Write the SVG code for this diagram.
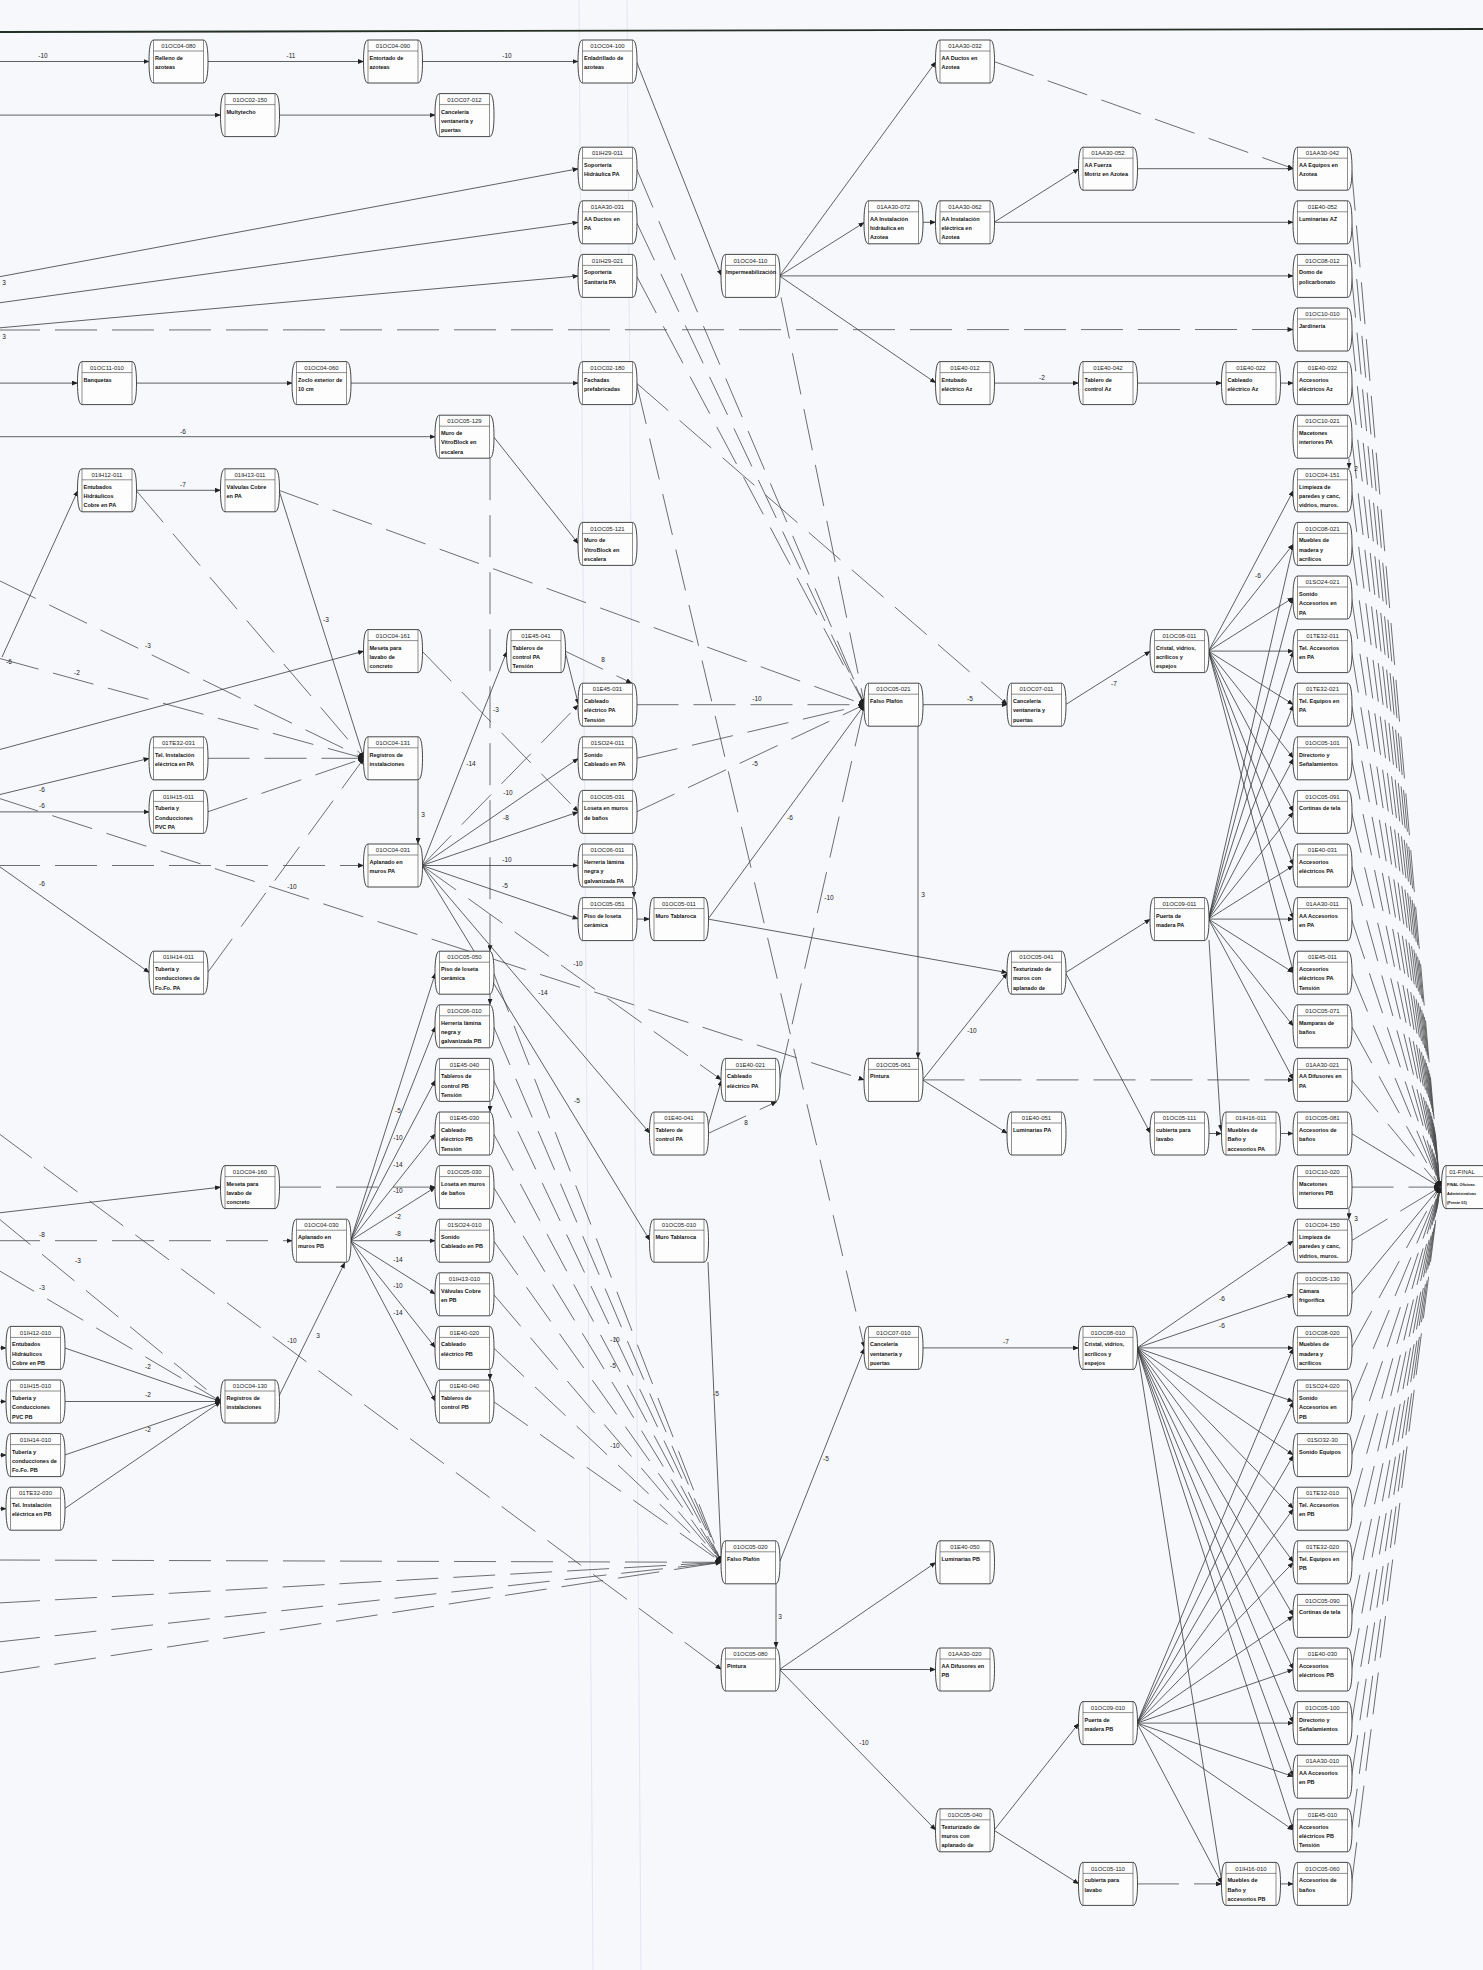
<svg xmlns="http://www.w3.org/2000/svg" xmlns:xlink="http://www.w3.org/1999/xlink" width="1483" height="1970" viewBox="0 0 1483 1970">
<style>
.i{font-family:"Liberation Sans",Arial,sans-serif;font-size:6px;fill:#222;text-anchor:middle}
.t{font-family:"Liberation Sans",Arial,sans-serif;font-size:5.5px;font-weight:bold;fill:#111}
.tf{font-family:"Liberation Sans",Arial,sans-serif;font-size:3.9px;font-weight:bold;fill:#111}
.l{font-family:"Liberation Sans",Arial,sans-serif;font-size:6.5px;fill:#222;text-anchor:middle}
.s{stroke:#3a3a3a;stroke-width:.8;fill:none;marker-end:url(#a)}
.d{stroke:#4a4a4a;stroke-width:.8;fill:none;stroke-dasharray:42 15;marker-end:url(#a)}
.f{stroke:#e2e6ee;stroke-width:1;fill:none}
</style>
<defs>
<marker id="a" viewBox="0 0 6 5" refX="6" refY="2.5" markerWidth="6" markerHeight="5" markerUnits="userSpaceOnUse" orient="auto"><path d="M0,0 L6,2.5 L0,5 Z" fill="#222"/></marker>
<g id="b"><path d="M4,0 H54 C57.5,0 58.5,10 58.5,21.5 C58.5,33 57.5,43 54,43 H4 C0.5,43 -0.5,33 -0.5,21.5 C-0.5,10 0.5,0 4,0 Z" fill="#fdfdfe" stroke="#333" stroke-width=".9"/><path d="M4,0 V43 M54,0 V43 M4,11 H54" stroke="#444" stroke-width=".6" fill="none"/></g>
</defs>
<rect width="1483" height="1970" fill="#f6f8fc"/>
<line class="f" x1="579" y1="0" x2="593" y2="1970"/>
<line class="f" x1="627" y1="0" x2="641" y2="1970"/>
<line x1="0" y1="32" x2="1483" y2="29" stroke="#253025" stroke-width="1.8"/>
<g id="connectors">
<line class="s" x1="-2" y1="61.5" x2="149.5" y2="61.5"/>
<line class="s" x1="207.5" y1="61.5" x2="364" y2="61.5"/>
<line class="s" x1="422" y1="61.5" x2="578.5" y2="61.5"/>
<line class="s" x1="636.5" y1="61.5" x2="721.5" y2="275.9"/>
<line class="s" x1="-2" y1="115.1" x2="221" y2="115.1"/>
<line class="s" x1="279" y1="115.1" x2="435.5" y2="115.1"/>
<line class="s" x1="-2" y1="277" x2="578.5" y2="168.7"/>
<line class="s" x1="-2" y1="303" x2="578.5" y2="222.3"/>
<line class="s" x1="-2" y1="328" x2="578.5" y2="275.9"/>
<line class="d" x1="-2" y1="330" x2="1293.5" y2="329.5"/>
<line class="s" x1="779.5" y1="275.9" x2="936" y2="61.5"/>
<line class="s" x1="779.5" y1="275.9" x2="864.5" y2="222.3"/>
<line class="s" x1="779.5" y1="275.9" x2="1293.5" y2="275.9"/>
<line class="s" x1="779.5" y1="275.9" x2="936" y2="383.1"/>
<line class="s" x1="922.5" y1="222.3" x2="936" y2="222.3"/>
<line class="s" x1="994" y1="222.3" x2="1079" y2="168.7"/>
<line class="s" x1="994" y1="222.3" x2="1293.5" y2="222.3"/>
<line class="s" x1="1137" y1="168.7" x2="1293.5" y2="168.7"/>
<line class="d" x1="994" y1="61.5" x2="1293.5" y2="168.7"/>
<line class="s" x1="994" y1="383.1" x2="1079" y2="383.1"/>
<line class="s" x1="1137" y1="383.1" x2="1222" y2="383.1"/>
<line class="s" x1="1280" y1="383.1" x2="1293.5" y2="383.1"/>
<line class="s" x1="-2" y1="383.1" x2="78" y2="383.1"/>
<line class="s" x1="136" y1="383.1" x2="292.5" y2="383.1"/>
<line class="s" x1="350.5" y1="383.1" x2="578.5" y2="383.1"/>
<line class="s" x1="-2" y1="436.7" x2="435.5" y2="436.7"/>
<line class="s" x1="493.5" y1="436.7" x2="578.5" y2="543.9"/>
<line class="s" x1="136" y1="490.3" x2="221" y2="490.3"/>
<line class="s" x1="2" y1="657" x2="78" y2="490.3"/>
<line class="s" x1="279" y1="490.3" x2="364" y2="758.3"/>
<line class="d" x1="279" y1="490.3" x2="864.5" y2="704.7"/>
<line class="d" x1="136" y1="490.3" x2="364" y2="758.3"/>
<line class="d" x1="-2" y1="580" x2="364" y2="758.3"/>
<line class="d" x1="-2" y1="658" x2="364" y2="758.3"/>
<line class="s" x1="-2" y1="750" x2="364" y2="651.1"/>
<line class="s" x1="-2" y1="795" x2="149.5" y2="758.3"/>
<line class="s" x1="-2" y1="811.9" x2="149.5" y2="811.9"/>
<line class="d" x1="-2" y1="798" x2="864.5" y2="1079.9"/>
<line class="d" x1="-2" y1="865.5" x2="364" y2="865.5"/>
<line class="s" x1="-2" y1="865.5" x2="149.5" y2="972.7"/>
<line class="d" x1="207.5" y1="758.3" x2="364" y2="758.3"/>
<line class="d" x1="207.5" y1="811.9" x2="364" y2="758.3"/>
<line class="d" x1="207.5" y1="972.7" x2="364" y2="758.3"/>
<line class="s" x1="418" y1="780.3" x2="418" y2="844"/>
<line class="d" x1="422" y1="651.1" x2="578.5" y2="811.9"/>
<line class="d" x1="490" y1="458.2" x2="490" y2="951.2"/>
<line class="s" x1="422" y1="865.5" x2="507" y2="651.1"/>
<line class="d" x1="422" y1="865.5" x2="578.5" y2="704.7"/>
<line class="s" x1="422" y1="865.5" x2="578.5" y2="758.3"/>
<line class="s" x1="422" y1="865.5" x2="578.5" y2="811.9"/>
<line class="s" x1="422" y1="865.5" x2="578.5" y2="865.5"/>
<line class="s" x1="422" y1="865.5" x2="578.5" y2="919.1"/>
<line class="d" x1="422" y1="865.5" x2="721.5" y2="1079.9"/>
<line class="s" x1="422" y1="865.5" x2="650" y2="1133.5"/>
<line class="s" x1="422" y1="865.5" x2="650" y2="1240.7"/>
<line class="s" x1="565" y1="651.1" x2="578.5" y2="704.7"/>
<line class="d" x1="565" y1="651.1" x2="632" y2="683.2"/>
<line class="d" x1="636.5" y1="704.7" x2="864.5" y2="704.7"/>
<line class="d" x1="636.5" y1="758.3" x2="864.5" y2="704.7"/>
<line class="d" x1="636.5" y1="811.9" x2="864.5" y2="704.7"/>
<line class="s" x1="708" y1="919.1" x2="864.5" y2="704.7"/>
<line class="s" x1="636.5" y1="919.1" x2="650" y2="919.1"/>
<line class="s" x1="634" y1="887" x2="634" y2="897.6"/>
<line class="s" x1="708" y1="919.1" x2="1007.5" y2="972.7"/>
<line class="d" x1="636.5" y1="168.7" x2="864.5" y2="704.7"/>
<line class="d" x1="636.5" y1="222.3" x2="864.5" y2="704.7"/>
<line class="d" x1="636.5" y1="275.9" x2="864.5" y2="704.7"/>
<line class="d" x1="781" y1="297.4" x2="864.5" y2="704.7"/>
<line class="d" x1="636.5" y1="383.1" x2="1007.5" y2="704.7"/>
<line class="d" x1="636.5" y1="383.1" x2="864.5" y2="1347.9"/>
<line class="d" x1="779.5" y1="1079.9" x2="864.5" y2="704.7"/>
<line class="s" x1="922.5" y1="704.7" x2="1007.5" y2="704.7"/>
<line class="s" x1="918" y1="726.2" x2="918" y2="1058.4"/>
<line class="s" x1="1065.5" y1="704.7" x2="1150.5" y2="651.1"/>
<line class="s" x1="922.5" y1="1079.9" x2="1007.5" y2="972.7"/>
<line class="d" x1="922.5" y1="1079.9" x2="1293.5" y2="1079.9"/>
<line class="s" x1="922.5" y1="1079.9" x2="1007.5" y2="1133.5"/>
<line class="s" x1="1065.5" y1="972.7" x2="1150.5" y2="919.1"/>
<line class="s" x1="1065.5" y1="972.7" x2="1150.5" y2="1133.5"/>
<line class="s" x1="1208.5" y1="1133.5" x2="1222" y2="1133.5"/>
<line class="s" x1="1280" y1="1133.5" x2="1293.5" y2="1133.5"/>
<line class="s" x1="1209" y1="940" x2="1221" y2="1131"/>
<line class="s" x1="708" y1="1126" x2="721.5" y2="1079.9"/>
<line class="d" x1="708" y1="1133.5" x2="777" y2="1101.6"/>
<line class="s" x1="708" y1="1262" x2="721.5" y2="1562.3"/>
<line class="s" x1="779.5" y1="1562.3" x2="864.5" y2="1347.9"/>
<line class="s" x1="776" y1="1583.8" x2="776" y2="1648"/>
<line class="s" x1="922.5" y1="1347.9" x2="1079" y2="1347.9"/>
<line class="s" x1="779.5" y1="1669.5" x2="936" y2="1562.3"/>
<line class="s" x1="779.5" y1="1669.5" x2="936" y2="1669.5"/>
<line class="s" x1="779.5" y1="1669.5" x2="936" y2="1830.3"/>
<line class="s" x1="994" y1="1830.3" x2="1079" y2="1723.1"/>
<line class="s" x1="994" y1="1830.3" x2="1079" y2="1883.9"/>
<line class="d" x1="1137" y1="1883.9" x2="1222" y2="1883.9"/>
<line class="s" x1="1280" y1="1883.9" x2="1293.5" y2="1883.9"/>
<line class="s" x1="1137" y1="1723.1" x2="1222" y2="1883.9"/>
<line class="s" x1="1137" y1="1347.9" x2="1222" y2="1883.9"/>
<line class="s" x1="1208.5" y1="651.1" x2="1293.5" y2="490.3"/>
<line class="s" x1="1208.5" y1="651.1" x2="1293.5" y2="543.9"/>
<line class="s" x1="1208.5" y1="651.1" x2="1293.5" y2="597.5"/>
<line class="s" x1="1208.5" y1="651.1" x2="1293.5" y2="651.1"/>
<line class="s" x1="1208.5" y1="651.1" x2="1293.5" y2="704.7"/>
<line class="s" x1="1208.5" y1="651.1" x2="1293.5" y2="758.3"/>
<line class="s" x1="1208.5" y1="651.1" x2="1293.5" y2="811.9"/>
<line class="s" x1="1208.5" y1="651.1" x2="1293.5" y2="865.5"/>
<line class="s" x1="1208.5" y1="651.1" x2="1293.5" y2="919.1"/>
<line class="s" x1="1208.5" y1="651.1" x2="1293.5" y2="972.7"/>
<line class="s" x1="1208.5" y1="919.1" x2="1293.5" y2="543.9"/>
<line class="s" x1="1208.5" y1="919.1" x2="1293.5" y2="597.5"/>
<line class="s" x1="1208.5" y1="919.1" x2="1293.5" y2="651.1"/>
<line class="s" x1="1208.5" y1="919.1" x2="1293.5" y2="704.7"/>
<line class="s" x1="1208.5" y1="919.1" x2="1293.5" y2="758.3"/>
<line class="s" x1="1208.5" y1="919.1" x2="1293.5" y2="811.9"/>
<line class="s" x1="1208.5" y1="919.1" x2="1293.5" y2="865.5"/>
<line class="s" x1="1208.5" y1="919.1" x2="1293.5" y2="919.1"/>
<line class="s" x1="1208.5" y1="919.1" x2="1293.5" y2="972.7"/>
<line class="s" x1="1208.5" y1="919.1" x2="1293.5" y2="1026.3"/>
<line class="s" x1="1208.5" y1="919.1" x2="1293.5" y2="1079.9"/>
<line class="s" x1="1137" y1="1347.9" x2="1293.5" y2="1240.7"/>
<line class="s" x1="1137" y1="1347.9" x2="1293.5" y2="1294.3"/>
<line class="s" x1="1137" y1="1347.9" x2="1293.5" y2="1347.9"/>
<line class="s" x1="1137" y1="1347.9" x2="1293.5" y2="1401.5"/>
<line class="s" x1="1137" y1="1347.9" x2="1293.5" y2="1455.1"/>
<line class="s" x1="1137" y1="1347.9" x2="1293.5" y2="1508.7"/>
<line class="s" x1="1137" y1="1347.9" x2="1293.5" y2="1562.3"/>
<line class="s" x1="1137" y1="1347.9" x2="1293.5" y2="1615.9"/>
<line class="s" x1="1137" y1="1347.9" x2="1293.5" y2="1669.5"/>
<line class="s" x1="1137" y1="1347.9" x2="1293.5" y2="1723.1"/>
<line class="s" x1="1137" y1="1347.9" x2="1293.5" y2="1776.7"/>
<line class="s" x1="1137" y1="1347.9" x2="1293.5" y2="1830.3"/>
<line class="s" x1="1137" y1="1723.1" x2="1293.5" y2="1347.9"/>
<line class="s" x1="1137" y1="1723.1" x2="1293.5" y2="1401.5"/>
<line class="s" x1="1137" y1="1723.1" x2="1293.5" y2="1455.1"/>
<line class="s" x1="1137" y1="1723.1" x2="1293.5" y2="1508.7"/>
<line class="s" x1="1137" y1="1723.1" x2="1293.5" y2="1562.3"/>
<line class="s" x1="1137" y1="1723.1" x2="1293.5" y2="1615.9"/>
<line class="s" x1="1137" y1="1723.1" x2="1293.5" y2="1669.5"/>
<line class="s" x1="1137" y1="1723.1" x2="1293.5" y2="1723.1"/>
<line class="s" x1="1137" y1="1723.1" x2="1293.5" y2="1776.7"/>
<line class="s" x1="1137" y1="1723.1" x2="1293.5" y2="1830.3"/>
<line class="d" x1="1351.5" y1="168.7" x2="1440" y2="1187.1"/>
<line class="d" x1="1351.5" y1="222.3" x2="1440" y2="1187.1"/>
<line class="d" x1="1351.5" y1="275.9" x2="1440" y2="1187.1"/>
<line class="d" x1="1351.5" y1="329.5" x2="1440" y2="1187.1"/>
<line class="d" x1="1351.5" y1="383.1" x2="1440" y2="1187.1"/>
<line class="d" x1="1351.5" y1="436.7" x2="1440" y2="1187.1"/>
<line class="d" x1="1351.5" y1="490.3" x2="1440" y2="1187.1"/>
<line class="d" x1="1351.5" y1="543.9" x2="1440" y2="1187.1"/>
<line class="d" x1="1351.5" y1="597.5" x2="1440" y2="1187.1"/>
<line class="d" x1="1351.5" y1="651.1" x2="1440" y2="1187.1"/>
<line class="d" x1="1351.5" y1="704.7" x2="1440" y2="1187.1"/>
<line class="d" x1="1351.5" y1="758.3" x2="1440" y2="1187.1"/>
<line class="d" x1="1351.5" y1="811.9" x2="1440" y2="1187.1"/>
<line class="d" x1="1351.5" y1="865.5" x2="1440" y2="1187.1"/>
<line class="d" x1="1351.5" y1="919.1" x2="1440" y2="1187.1"/>
<line class="d" x1="1351.5" y1="972.7" x2="1440" y2="1187.1"/>
<line class="d" x1="1351.5" y1="1026.3" x2="1440" y2="1187.1"/>
<line class="d" x1="1351.5" y1="1079.9" x2="1440" y2="1187.1"/>
<line class="s" x1="1351.5" y1="1133.5" x2="1440" y2="1187.1"/>
<line class="d" x1="1351.5" y1="1187.1" x2="1440" y2="1187.1"/>
<line class="d" x1="1351.5" y1="1240.7" x2="1440" y2="1187.1"/>
<line class="s" x1="1351.5" y1="1294.3" x2="1440" y2="1187.1"/>
<line class="d" x1="1351.5" y1="1347.9" x2="1440" y2="1187.1"/>
<line class="d" x1="1351.5" y1="1401.5" x2="1440" y2="1187.1"/>
<line class="d" x1="1351.5" y1="1455.1" x2="1440" y2="1187.1"/>
<line class="d" x1="1351.5" y1="1508.7" x2="1440" y2="1187.1"/>
<line class="d" x1="1351.5" y1="1562.3" x2="1440" y2="1187.1"/>
<line class="d" x1="1351.5" y1="1615.9" x2="1440" y2="1187.1"/>
<line class="d" x1="1351.5" y1="1669.5" x2="1440" y2="1187.1"/>
<line class="d" x1="1351.5" y1="1723.1" x2="1440" y2="1187.1"/>
<line class="d" x1="1351.5" y1="1776.7" x2="1440" y2="1187.1"/>
<line class="d" x1="1351.5" y1="1830.3" x2="1440" y2="1187.1"/>
<line class="d" x1="1351.5" y1="1883.9" x2="1440" y2="1187.1"/>
<line class="s" x1="1349" y1="458.4" x2="1349" y2="468.8"/>
<line class="s" x1="1349" y1="1208.6" x2="1349" y2="1219.2"/>
<line class="s" x1="-2" y1="1213" x2="221" y2="1187.1"/>
<line class="d" x1="279" y1="1187.1" x2="435.5" y2="1187.1"/>
<line class="d" x1="-2" y1="1240.7" x2="292.5" y2="1240.7"/>
<line class="s" x1="279" y1="1396" x2="345" y2="1262.2"/>
<line class="s" x1="64.5" y1="1347.9" x2="221" y2="1401.5"/>
<line class="s" x1="64.5" y1="1401.5" x2="221" y2="1401.5"/>
<line class="s" x1="64.5" y1="1455.1" x2="221" y2="1401.5"/>
<line class="s" x1="64.5" y1="1508.7" x2="221" y2="1401.5"/>
<line class="s" x1="-3" y1="1347.9" x2="6.5" y2="1347.9"/>
<line class="s" x1="-3" y1="1401.5" x2="6.5" y2="1401.5"/>
<line class="s" x1="-3" y1="1455.1" x2="6.5" y2="1455.1"/>
<line class="s" x1="-3" y1="1508.7" x2="6.5" y2="1508.7"/>
<line class="d" x1="-2" y1="1218" x2="221" y2="1401.5"/>
<line class="d" x1="-2" y1="1270" x2="221" y2="1401.5"/>
<line class="d" x1="-2" y1="1133" x2="721.5" y2="1669.5"/>
<line class="s" x1="350.5" y1="1240.7" x2="435.5" y2="972.7"/>
<line class="s" x1="350.5" y1="1240.7" x2="435.5" y2="1026.3"/>
<line class="s" x1="350.5" y1="1240.7" x2="435.5" y2="1079.9"/>
<line class="s" x1="350.5" y1="1240.7" x2="435.5" y2="1133.5"/>
<line class="s" x1="350.5" y1="1240.7" x2="435.5" y2="1187.1"/>
<line class="s" x1="350.5" y1="1240.7" x2="435.5" y2="1240.7"/>
<line class="s" x1="350.5" y1="1240.7" x2="435.5" y2="1294.3"/>
<line class="s" x1="350.5" y1="1240.7" x2="435.5" y2="1347.9"/>
<line class="s" x1="350.5" y1="1240.7" x2="435.5" y2="1401.5"/>
<line class="d" x1="493.5" y1="972.7" x2="721.5" y2="1562.3"/>
<line class="d" x1="493.5" y1="1026.3" x2="721.5" y2="1562.3"/>
<line class="d" x1="493.5" y1="1079.9" x2="721.5" y2="1562.3"/>
<line class="d" x1="493.5" y1="1133.5" x2="721.5" y2="1562.3"/>
<line class="d" x1="493.5" y1="1187.1" x2="721.5" y2="1562.3"/>
<line class="d" x1="493.5" y1="1240.7" x2="721.5" y2="1562.3"/>
<line class="d" x1="493.5" y1="1294.3" x2="721.5" y2="1562.3"/>
<line class="d" x1="493.5" y1="1347.9" x2="721.5" y2="1562.3"/>
<line class="d" x1="493.5" y1="1401.5" x2="721.5" y2="1562.3"/>
<line class="s" x1="490" y1="994.2" x2="490" y2="1004.8"/>
<line class="s" x1="490" y1="1101.4" x2="490" y2="1112"/>
<line class="s" x1="490" y1="1369.4" x2="490" y2="1380"/>
<line class="d" x1="-2" y1="1560" x2="721.5" y2="1562.3"/>
<line class="d" x1="-2" y1="1603" x2="721.5" y2="1562.3"/>
<line class="d" x1="-2" y1="1642" x2="721.5" y2="1562.3"/>
<line class="d" x1="-2" y1="1673" x2="721.5" y2="1562.3"/>
<g id="edge-labels">
<text class="l" x="43" y="58">-10</text><text class="l" x="291" y="58">-11</text><text class="l" x="507" y="58">-10</text>
<text class="l" x="4" y="285">3</text><text class="l" x="4" y="339">3</text><text class="l" x="1042" y="380">-2</text>
<text class="l" x="183" y="434">-6</text><text class="l" x="183" y="487">-7</text><text class="l" x="9" y="664">-6</text>
<text class="l" x="326" y="622">-3</text><text class="l" x="148" y="648">-3</text><text class="l" x="77" y="675">-2</text>
<text class="l" x="42" y="792">-6</text><text class="l" x="42" y="808">-6</text><text class="l" x="292" y="889">-10</text>
<text class="l" x="42" y="886">-6</text><text class="l" x="423" y="817">3</text><text class="l" x="496" y="712">-3</text>
<text class="l" x="471" y="766">-14</text><text class="l" x="508" y="795">-10</text><text class="l" x="506" y="820">-8</text>
<text class="l" x="507" y="862">-10</text><text class="l" x="505" y="888">-5</text><text class="l" x="578" y="966">-10</text>
<text class="l" x="543" y="995">-14</text><text class="l" x="577" y="1103">-5</text><text class="l" x="603" y="662">8</text>
<text class="l" x="757" y="701">-10</text><text class="l" x="755" y="766">-5</text><text class="l" x="790" y="820">-6</text>
<text class="l" x="829" y="900">-10</text><text class="l" x="970" y="701">-5</text><text class="l" x="923" y="897">3</text>
<text class="l" x="1114" y="686">-7</text><text class="l" x="972" y="1033">-10</text><text class="l" x="1258" y="578">-6</text>
<text class="l" x="746" y="1125">8</text><text class="l" x="716" y="1396">-5</text><text class="l" x="826" y="1461">-5</text>
<text class="l" x="780" y="1619">3</text><text class="l" x="1006" y="1344">-7</text><text class="l" x="864" y="1745">-10</text>
<text class="l" x="1222" y="1301">-6</text><text class="l" x="1222" y="1328">-6</text>
<text class="l" x="1356" y="471">2</text><text class="l" x="1356" y="1221">3</text>
<text class="l" x="42" y="1237">-8</text><text class="l" x="318" y="1338">3</text>
<text class="l" x="148" y="1369">-2</text><text class="l" x="148" y="1397">-2</text><text class="l" x="148" y="1432">-2</text>
<text class="l" x="78" y="1263">-3</text><text class="l" x="42" y="1290">-3</text><text class="l" x="292" y="1343">-10</text>
<text class="l" x="398" y="1113">-5</text><text class="l" x="398" y="1140">-10</text><text class="l" x="398" y="1167">-14</text>
<text class="l" x="398" y="1193">-10</text><text class="l" x="398" y="1219">-2</text><text class="l" x="398" y="1236">-8</text>
<text class="l" x="398" y="1262">-14</text><text class="l" x="398" y="1288">-10</text><text class="l" x="398" y="1315">-14</text>
<text class="l" x="615" y="1342">-10</text><text class="l" x="613" y="1368">-5</text><text class="l" x="615" y="1448">-10</text>
</g>
</g>
<g id="n-01OC04-080" transform="translate(149.5,40)"><use href="#b"/><text class="i" x="29" y="8.3">01OC04-080</text><text class="t" y="20"><tspan x="5.5">Relleno de</tspan><tspan x="5.5" dy="9.3">azoteas</tspan></text></g>
<g id="n-01OC04-090" transform="translate(364,40)"><use href="#b"/><text class="i" x="29" y="8.3">01OC04-090</text><text class="t" y="20"><tspan x="5.5">Entortado de</tspan><tspan x="5.5" dy="9.3">azoteas</tspan></text></g>
<g id="n-01OC04-100" transform="translate(578.5,40)"><use href="#b"/><text class="i" x="29" y="8.3">01OC04-100</text><text class="t" y="20"><tspan x="5.5">Enladrillado de</tspan><tspan x="5.5" dy="9.3">azoteas</tspan></text></g>
<g id="n-01AA30-032" transform="translate(936,40)"><use href="#b"/><text class="i" x="29" y="8.3">01AA30-032</text><text class="t" y="20"><tspan x="5.5">AA Ductos en</tspan><tspan x="5.5" dy="9.3">Azotea</tspan></text></g>
<g id="n-01OC02-150" transform="translate(221,93.6)"><use href="#b"/><text class="i" x="29" y="8.3">01OC02-150</text><text class="t" y="20"><tspan x="5.5">Multytecho</tspan></text></g>
<g id="n-01OC07-012" transform="translate(435.5,93.6)"><use href="#b"/><text class="i" x="29" y="8.3">01OC07-012</text><text class="t" y="20"><tspan x="5.5">Cancelería</tspan><tspan x="5.5" dy="9.3">ventanería y</tspan><tspan x="5.5" dy="9.3">puertas</tspan></text></g>
<g id="n-01IH29-011" transform="translate(578.5,147.2)"><use href="#b"/><text class="i" x="29" y="8.3">01IH29-011</text><text class="t" y="20"><tspan x="5.5">Soportería</tspan><tspan x="5.5" dy="9.3">Hidráulica PA</tspan></text></g>
<g id="n-01AA30-052" transform="translate(1079,147.2)"><use href="#b"/><text class="i" x="29" y="8.3">01AA30-052</text><text class="t" y="20"><tspan x="5.5">AA Fuerza</tspan><tspan x="5.5" dy="9.3">Motriz en Azotea</tspan></text></g>
<g id="n-01AA30-042" transform="translate(1293.5,147.2)"><use href="#b"/><text class="i" x="29" y="8.3">01AA30-042</text><text class="t" y="20"><tspan x="5.5">AA Equipos en</tspan><tspan x="5.5" dy="9.3">Azotea</tspan></text></g>
<g id="n-01AA30-031" transform="translate(578.5,200.8)"><use href="#b"/><text class="i" x="29" y="8.3">01AA30-031</text><text class="t" y="20"><tspan x="5.5">AA Ductos en</tspan><tspan x="5.5" dy="9.3">PA</tspan></text></g>
<g id="n-01AA30-072" transform="translate(864.5,200.8)"><use href="#b"/><text class="i" x="29" y="8.3">01AA30-072</text><text class="t" y="20"><tspan x="5.5">AA Instalación</tspan><tspan x="5.5" dy="9.3">hidráulica en</tspan><tspan x="5.5" dy="9.3">Azotea</tspan></text></g>
<g id="n-01AA30-062" transform="translate(936,200.8)"><use href="#b"/><text class="i" x="29" y="8.3">01AA30-062</text><text class="t" y="20"><tspan x="5.5">AA Instalación</tspan><tspan x="5.5" dy="9.3">eléctrica en</tspan><tspan x="5.5" dy="9.3">Azotea</tspan></text></g>
<g id="n-01E40-052" transform="translate(1293.5,200.8)"><use href="#b"/><text class="i" x="29" y="8.3">01E40-052</text><text class="t" y="20"><tspan x="5.5">Luminarias AZ</tspan></text></g>
<g id="n-01IH29-021" transform="translate(578.5,254.4)"><use href="#b"/><text class="i" x="29" y="8.3">01IH29-021</text><text class="t" y="20"><tspan x="5.5">Soportería</tspan><tspan x="5.5" dy="9.3">Sanitaria PA</tspan></text></g>
<g id="n-01OC04-110" transform="translate(721.5,254.4)"><use href="#b"/><text class="i" x="29" y="8.3">01OC04-110</text><text class="t" y="20"><tspan x="4.5" textLength="50" lengthAdjust="spacingAndGlyphs">Impermeabilización</tspan></text></g>
<g id="n-01OC08-012" transform="translate(1293.5,254.4)"><use href="#b"/><text class="i" x="29" y="8.3">01OC08-012</text><text class="t" y="20"><tspan x="5.5">Domo de</tspan><tspan x="5.5" dy="9.3">policarbonato</tspan></text></g>
<g id="n-01OC10-010" transform="translate(1293.5,308)"><use href="#b"/><text class="i" x="29" y="8.3">01OC10-010</text><text class="t" y="20"><tspan x="5.5">Jardinería</tspan></text></g>
<g id="n-01OC11-010" transform="translate(78,361.6)"><use href="#b"/><text class="i" x="29" y="8.3">01OC11-010</text><text class="t" y="20"><tspan x="5.5">Banquetas</tspan></text></g>
<g id="n-01OC04-060" transform="translate(292.5,361.6)"><use href="#b"/><text class="i" x="29" y="8.3">01OC04-060</text><text class="t" y="20"><tspan x="5.5">Zoclo exterior de</tspan><tspan x="5.5" dy="9.3">10 cm</tspan></text></g>
<g id="n-01OC02-180" transform="translate(578.5,361.6)"><use href="#b"/><text class="i" x="29" y="8.3">01OC02-180</text><text class="t" y="20"><tspan x="5.5">Fachadas</tspan><tspan x="5.5" dy="9.3">prefabricadas</tspan></text></g>
<g id="n-01E40-012" transform="translate(936,361.6)"><use href="#b"/><text class="i" x="29" y="8.3">01E40-012</text><text class="t" y="20"><tspan x="5.5">Entubado</tspan><tspan x="5.5" dy="9.3">eléctrico Az</tspan></text></g>
<g id="n-01E40-042" transform="translate(1079,361.6)"><use href="#b"/><text class="i" x="29" y="8.3">01E40-042</text><text class="t" y="20"><tspan x="5.5">Tablero de</tspan><tspan x="5.5" dy="9.3">control Az</tspan></text></g>
<g id="n-01E40-022" transform="translate(1222,361.6)"><use href="#b"/><text class="i" x="29" y="8.3">01E40-022</text><text class="t" y="20"><tspan x="5.5">Cableado</tspan><tspan x="5.5" dy="9.3">eléctrico Az</tspan></text></g>
<g id="n-01E40-032" transform="translate(1293.5,361.6)"><use href="#b"/><text class="i" x="29" y="8.3">01E40-032</text><text class="t" y="20"><tspan x="5.5">Accesorios</tspan><tspan x="5.5" dy="9.3">eléctricos Az</tspan></text></g>
<g id="n-01OC05-129" transform="translate(435.5,415.2)"><use href="#b"/><text class="i" x="29" y="8.3">01OC05-129</text><text class="t" y="20"><tspan x="5.5">Muro de</tspan><tspan x="5.5" dy="9.3">VitroBlock en</tspan><tspan x="5.5" dy="9.3">escalera</tspan></text></g>
<g id="n-01OC10-021" transform="translate(1293.5,415.2)"><use href="#b"/><text class="i" x="29" y="8.3">01OC10-021</text><text class="t" y="20"><tspan x="5.5">Macetones</tspan><tspan x="5.5" dy="9.3">interiores PA</tspan></text></g>
<g id="n-01IH12-011" transform="translate(78,468.8)"><use href="#b"/><text class="i" x="29" y="8.3">01IH12-011</text><text class="t" y="20"><tspan x="5.5">Entubados</tspan><tspan x="5.5" dy="9.3">Hidráulicos</tspan><tspan x="5.5" dy="9.3">Cobre en PA</tspan></text></g>
<g id="n-01IH13-011" transform="translate(221,468.8)"><use href="#b"/><text class="i" x="29" y="8.3">01IH13-011</text><text class="t" y="20"><tspan x="5.5">Válvulas Cobre</tspan><tspan x="5.5" dy="9.3">en PA</tspan></text></g>
<g id="n-01OC04-151" transform="translate(1293.5,468.8)"><use href="#b"/><text class="i" x="29" y="8.3">01OC04-151</text><text class="t" y="20"><tspan x="5.5">Limpieza de</tspan><tspan x="5.5" dy="9.3">paredes y canc,</tspan><tspan x="5.5" dy="9.3">vidrios, muros.</tspan></text></g>
<g id="n-01OC05-121" transform="translate(578.5,522.4)"><use href="#b"/><text class="i" x="29" y="8.3">01OC05-121</text><text class="t" y="20"><tspan x="5.5">Muro de</tspan><tspan x="5.5" dy="9.3">VitroBlock en</tspan><tspan x="5.5" dy="9.3">escalera</tspan></text></g>
<g id="n-01OC08-021" transform="translate(1293.5,522.4)"><use href="#b"/><text class="i" x="29" y="8.3">01OC08-021</text><text class="t" y="20"><tspan x="5.5">Muebles de</tspan><tspan x="5.5" dy="9.3">madera y</tspan><tspan x="5.5" dy="9.3">acrílicos</tspan></text></g>
<g id="n-01SO24-021" transform="translate(1293.5,576)"><use href="#b"/><text class="i" x="29" y="8.3">01SO24-021</text><text class="t" y="20"><tspan x="5.5">Sonido</tspan><tspan x="5.5" dy="9.3">Accesorios en</tspan><tspan x="5.5" dy="9.3">PA</tspan></text></g>
<g id="n-01OC04-161" transform="translate(364,629.6)"><use href="#b"/><text class="i" x="29" y="8.3">01OC04-161</text><text class="t" y="20"><tspan x="5.5">Meseta para</tspan><tspan x="5.5" dy="9.3">lavabo de</tspan><tspan x="5.5" dy="9.3">concreto</tspan></text></g>
<g id="n-01E45-041" transform="translate(507,629.6)"><use href="#b"/><text class="i" x="29" y="8.3">01E45-041</text><text class="t" y="20"><tspan x="5.5">Tableros de</tspan><tspan x="5.5" dy="9.3">control PA</tspan><tspan x="5.5" dy="9.3">Tensión</tspan></text></g>
<g id="n-01OC08-011" transform="translate(1150.5,629.6)"><use href="#b"/><text class="i" x="29" y="8.3">01OC08-011</text><text class="t" y="20"><tspan x="5.5">Cristal, vidrios,</tspan><tspan x="5.5" dy="9.3">acrílicos y</tspan><tspan x="5.5" dy="9.3">espejos</tspan></text></g>
<g id="n-01TE32-011" transform="translate(1293.5,629.6)"><use href="#b"/><text class="i" x="29" y="8.3">01TE32-011</text><text class="t" y="20"><tspan x="5.5">Tel. Accesorios</tspan><tspan x="5.5" dy="9.3">en PA</tspan></text></g>
<g id="n-01E45-031" transform="translate(578.5,683.2)"><use href="#b"/><text class="i" x="29" y="8.3">01E45-031</text><text class="t" y="20"><tspan x="5.5">Cableado</tspan><tspan x="5.5" dy="9.3">eléctrico PA</tspan><tspan x="5.5" dy="9.3">Tensión</tspan></text></g>
<g id="n-01OC05-021" transform="translate(864.5,683.2)"><use href="#b"/><text class="i" x="29" y="8.3">01OC05-021</text><text class="t" y="20"><tspan x="5.5">Falso Plafón</tspan></text></g>
<g id="n-01OC07-011" transform="translate(1007.5,683.2)"><use href="#b"/><text class="i" x="29" y="8.3">01OC07-011</text><text class="t" y="20"><tspan x="5.5">Cancelería</tspan><tspan x="5.5" dy="9.3">ventanería y</tspan><tspan x="5.5" dy="9.3">puertas</tspan></text></g>
<g id="n-01TE32-021" transform="translate(1293.5,683.2)"><use href="#b"/><text class="i" x="29" y="8.3">01TE32-021</text><text class="t" y="20"><tspan x="5.5">Tel. Equipos en</tspan><tspan x="5.5" dy="9.3">PA</tspan></text></g>
<g id="n-01TE32-031" transform="translate(149.5,736.8)"><use href="#b"/><text class="i" x="29" y="8.3">01TE32-031</text><text class="t" y="20"><tspan x="5.5">Tel. Instalación</tspan><tspan x="5.5" dy="9.3">eléctrica en PA</tspan></text></g>
<g id="n-01OC04-131" transform="translate(364,736.8)"><use href="#b"/><text class="i" x="29" y="8.3">01OC04-131</text><text class="t" y="20"><tspan x="5.5">Registros de</tspan><tspan x="5.5" dy="9.3">instalaciones</tspan></text></g>
<g id="n-01SO24-011" transform="translate(578.5,736.8)"><use href="#b"/><text class="i" x="29" y="8.3">01SO24-011</text><text class="t" y="20"><tspan x="5.5">Sonido</tspan><tspan x="5.5" dy="9.3">Cableado en PA</tspan></text></g>
<g id="n-01OC05-101" transform="translate(1293.5,736.8)"><use href="#b"/><text class="i" x="29" y="8.3">01OC05-101</text><text class="t" y="20"><tspan x="5.5">Directorio y</tspan><tspan x="5.5" dy="9.3">Señalamientos</tspan></text></g>
<g id="n-01IH15-011" transform="translate(149.5,790.4)"><use href="#b"/><text class="i" x="29" y="8.3">01IH15-011</text><text class="t" y="20"><tspan x="5.5">Tubería y</tspan><tspan x="5.5" dy="9.3">Conducciones</tspan><tspan x="5.5" dy="9.3">PVC PA</tspan></text></g>
<g id="n-01OC05-031" transform="translate(578.5,790.4)"><use href="#b"/><text class="i" x="29" y="8.3">01OC05-031</text><text class="t" y="20"><tspan x="5.5">Loseta en muros</tspan><tspan x="5.5" dy="9.3">de baños</tspan></text></g>
<g id="n-01OC05-091" transform="translate(1293.5,790.4)"><use href="#b"/><text class="i" x="29" y="8.3">01OC05-091</text><text class="t" y="20"><tspan x="5.5">Cortinas de tela</tspan></text></g>
<g id="n-01OC04-031" transform="translate(364,844)"><use href="#b"/><text class="i" x="29" y="8.3">01OC04-031</text><text class="t" y="20"><tspan x="5.5">Aplanado en</tspan><tspan x="5.5" dy="9.3">muros PA</tspan></text></g>
<g id="n-01OC06-011" transform="translate(578.5,844)"><use href="#b"/><text class="i" x="29" y="8.3">01OC06-011</text><text class="t" y="20"><tspan x="5.5">Herrería lámina</tspan><tspan x="5.5" dy="9.3">negra y</tspan><tspan x="5.5" dy="9.3">galvanizada PA</tspan></text></g>
<g id="n-01E40-031" transform="translate(1293.5,844)"><use href="#b"/><text class="i" x="29" y="8.3">01E40-031</text><text class="t" y="20"><tspan x="5.5">Accesorios</tspan><tspan x="5.5" dy="9.3">eléctricos PA</tspan></text></g>
<g id="n-01OC05-051" transform="translate(578.5,897.6)"><use href="#b"/><text class="i" x="29" y="8.3">01OC05-051</text><text class="t" y="20"><tspan x="5.5">Piso de loseta</tspan><tspan x="5.5" dy="9.3">cerámica</tspan></text></g>
<g id="n-01OC05-011" transform="translate(650,897.6)"><use href="#b"/><text class="i" x="29" y="8.3">01OC05-011</text><text class="t" y="20"><tspan x="5.5">Muro Tablaroca</tspan></text></g>
<g id="n-01OC09-011" transform="translate(1150.5,897.6)"><use href="#b"/><text class="i" x="29" y="8.3">01OC09-011</text><text class="t" y="20"><tspan x="5.5">Puerta de</tspan><tspan x="5.5" dy="9.3">madera PA</tspan></text></g>
<g id="n-01AA30-011" transform="translate(1293.5,897.6)"><use href="#b"/><text class="i" x="29" y="8.3">01AA30-011</text><text class="t" y="20"><tspan x="5.5">AA Accesorios</tspan><tspan x="5.5" dy="9.3">en PA</tspan></text></g>
<g id="n-01IH14-011" transform="translate(149.5,951.2)"><use href="#b"/><text class="i" x="29" y="8.3">01IH14-011</text><text class="t" y="20"><tspan x="5.5">Tubería y</tspan><tspan x="5.5" dy="9.3">conducciones de</tspan><tspan x="5.5" dy="9.3">Fo.Fo. PA</tspan></text></g>
<g id="n-01OC05-050" transform="translate(435.5,951.2)"><use href="#b"/><text class="i" x="29" y="8.3">01OC05-050</text><text class="t" y="20"><tspan x="5.5">Piso de loseta</tspan><tspan x="5.5" dy="9.3">cerámica</tspan></text></g>
<g id="n-01OC05-041" transform="translate(1007.5,951.2)"><use href="#b"/><text class="i" x="29" y="8.3">01OC05-041</text><text class="t" y="20"><tspan x="5.5">Texturizado de</tspan><tspan x="5.5" dy="9.3">muros con</tspan><tspan x="5.5" dy="9.3">aplanado de</tspan></text></g>
<g id="n-01E45-011" transform="translate(1293.5,951.2)"><use href="#b"/><text class="i" x="29" y="8.3">01E45-011</text><text class="t" y="20"><tspan x="5.5">Accesorios</tspan><tspan x="5.5" dy="9.3">eléctricos PA</tspan><tspan x="5.5" dy="9.3">Tensión</tspan></text></g>
<g id="n-01OC06-010" transform="translate(435.5,1004.8)"><use href="#b"/><text class="i" x="29" y="8.3">01OC06-010</text><text class="t" y="20"><tspan x="5.5">Herrería lámina</tspan><tspan x="5.5" dy="9.3">negra y</tspan><tspan x="5.5" dy="9.3">galvanizada PB</tspan></text></g>
<g id="n-01OC05-071" transform="translate(1293.5,1004.8)"><use href="#b"/><text class="i" x="29" y="8.3">01OC05-071</text><text class="t" y="20"><tspan x="5.5">Mamparas de</tspan><tspan x="5.5" dy="9.3">baños</tspan></text></g>
<g id="n-01E45-040" transform="translate(435.5,1058.4)"><use href="#b"/><text class="i" x="29" y="8.3">01E45-040</text><text class="t" y="20"><tspan x="5.5">Tableros de</tspan><tspan x="5.5" dy="9.3">control PB</tspan><tspan x="5.5" dy="9.3">Tensión</tspan></text></g>
<g id="n-01E40-021" transform="translate(721.5,1058.4)"><use href="#b"/><text class="i" x="29" y="8.3">01E40-021</text><text class="t" y="20"><tspan x="5.5">Cableado</tspan><tspan x="5.5" dy="9.3">eléctrico PA</tspan></text></g>
<g id="n-01OC05-061" transform="translate(864.5,1058.4)"><use href="#b"/><text class="i" x="29" y="8.3">01OC05-061</text><text class="t" y="20"><tspan x="5.5">Pintura</tspan></text></g>
<g id="n-01AA30-021" transform="translate(1293.5,1058.4)"><use href="#b"/><text class="i" x="29" y="8.3">01AA30-021</text><text class="t" y="20"><tspan x="5.5">AA Difusores en</tspan><tspan x="5.5" dy="9.3">PA</tspan></text></g>
<g id="n-01E45-030" transform="translate(435.5,1112)"><use href="#b"/><text class="i" x="29" y="8.3">01E45-030</text><text class="t" y="20"><tspan x="5.5">Cableado</tspan><tspan x="5.5" dy="9.3">eléctrico PB</tspan><tspan x="5.5" dy="9.3">Tensión</tspan></text></g>
<g id="n-01E40-041" transform="translate(650,1112)"><use href="#b"/><text class="i" x="29" y="8.3">01E40-041</text><text class="t" y="20"><tspan x="5.5">Tablero de</tspan><tspan x="5.5" dy="9.3">control PA</tspan></text></g>
<g id="n-01E40-051" transform="translate(1007.5,1112)"><use href="#b"/><text class="i" x="29" y="8.3">01E40-051</text><text class="t" y="20"><tspan x="5.5">Luminarias PA</tspan></text></g>
<g id="n-01OC05-111" transform="translate(1150.5,1112)"><use href="#b"/><text class="i" x="29" y="8.3">01OC05-111</text><text class="t" y="20"><tspan x="5.5">cubierta para</tspan><tspan x="5.5" dy="9.3">lavabo</tspan></text></g>
<g id="n-01IH16-011" transform="translate(1222,1112)"><use href="#b"/><text class="i" x="29" y="8.3">01IH16-011</text><text class="t" y="20"><tspan x="5.5">Muebles de</tspan><tspan x="5.5" dy="9.3">Baño y</tspan><tspan x="5.5" dy="9.3">accesorios PA</tspan></text></g>
<g id="n-01OC05-081" transform="translate(1293.5,1112)"><use href="#b"/><text class="i" x="29" y="8.3">01OC05-081</text><text class="t" y="20"><tspan x="5.5">Accesorios de</tspan><tspan x="5.5" dy="9.3">baños</tspan></text></g>
<g id="n-01OC04-160" transform="translate(221,1165.6)"><use href="#b"/><text class="i" x="29" y="8.3">01OC04-160</text><text class="t" y="20"><tspan x="5.5">Meseta para</tspan><tspan x="5.5" dy="9.3">lavabo de</tspan><tspan x="5.5" dy="9.3">concreto</tspan></text></g>
<g id="n-01OC05-030" transform="translate(435.5,1165.6)"><use href="#b"/><text class="i" x="29" y="8.3">01OC05-030</text><text class="t" y="20"><tspan x="5.5">Loseta en muros</tspan><tspan x="5.5" dy="9.3">de baños</tspan></text></g>
<g id="n-01OC10-020" transform="translate(1293.5,1165.6)"><use href="#b"/><text class="i" x="29" y="8.3">01OC10-020</text><text class="t" y="20"><tspan x="5.5">Macetones</tspan><tspan x="5.5" dy="9.3">interiores PB</tspan></text></g>
<g id="n-01-FINAL" transform="translate(1442,1165.6)"><use href="#b"/><text class="i" x="20" y="8.3">01-FINAL</text><text class="tf" y="20"><tspan x="5">FINAL Oficinas</tspan><tspan x="5" dy="9.3">Administrativas</tspan><tspan x="5" dy="9.3">(Frente 01)</tspan></text></g>
<g id="n-01OC04-030" transform="translate(292.5,1219.2)"><use href="#b"/><text class="i" x="29" y="8.3">01OC04-030</text><text class="t" y="20"><tspan x="5.5">Aplanado en</tspan><tspan x="5.5" dy="9.3">muros PB</tspan></text></g>
<g id="n-01SO24-010" transform="translate(435.5,1219.2)"><use href="#b"/><text class="i" x="29" y="8.3">01SO24-010</text><text class="t" y="20"><tspan x="5.5">Sonido</tspan><tspan x="5.5" dy="9.3">Cableado en PB</tspan></text></g>
<g id="n-01OC05-010" transform="translate(650,1219.2)"><use href="#b"/><text class="i" x="29" y="8.3">01OC05-010</text><text class="t" y="20"><tspan x="5.5">Muro Tablaroca</tspan></text></g>
<g id="n-01OC04-150" transform="translate(1293.5,1219.2)"><use href="#b"/><text class="i" x="29" y="8.3">01OC04-150</text><text class="t" y="20"><tspan x="5.5">Limpieza de</tspan><tspan x="5.5" dy="9.3">paredes y canc,</tspan><tspan x="5.5" dy="9.3">vidrios, muros.</tspan></text></g>
<g id="n-01IH13-010" transform="translate(435.5,1272.8)"><use href="#b"/><text class="i" x="29" y="8.3">01IH13-010</text><text class="t" y="20"><tspan x="5.5">Válvulas Cobre</tspan><tspan x="5.5" dy="9.3">en PB</tspan></text></g>
<g id="n-01OC05-130" transform="translate(1293.5,1272.8)"><use href="#b"/><text class="i" x="29" y="8.3">01OC05-130</text><text class="t" y="20"><tspan x="5.5">Cámara</tspan><tspan x="5.5" dy="9.3">frigorífica</tspan></text></g>
<g id="n-01IH12-010" transform="translate(6.5,1326.4)"><use href="#b"/><text class="i" x="29" y="8.3">01IH12-010</text><text class="t" y="20"><tspan x="5.5">Entubados</tspan><tspan x="5.5" dy="9.3">Hidráulicos</tspan><tspan x="5.5" dy="9.3">Cobre en PB</tspan></text></g>
<g id="n-01E40-020" transform="translate(435.5,1326.4)"><use href="#b"/><text class="i" x="29" y="8.3">01E40-020</text><text class="t" y="20"><tspan x="5.5">Cableado</tspan><tspan x="5.5" dy="9.3">eléctrico PB</tspan></text></g>
<g id="n-01OC07-010" transform="translate(864.5,1326.4)"><use href="#b"/><text class="i" x="29" y="8.3">01OC07-010</text><text class="t" y="20"><tspan x="5.5">Cancelería</tspan><tspan x="5.5" dy="9.3">ventanería y</tspan><tspan x="5.5" dy="9.3">puertas</tspan></text></g>
<g id="n-01OC08-010" transform="translate(1079,1326.4)"><use href="#b"/><text class="i" x="29" y="8.3">01OC08-010</text><text class="t" y="20"><tspan x="5.5">Cristal, vidrios,</tspan><tspan x="5.5" dy="9.3">acrílicos y</tspan><tspan x="5.5" dy="9.3">espejos</tspan></text></g>
<g id="n-01OC08-020" transform="translate(1293.5,1326.4)"><use href="#b"/><text class="i" x="29" y="8.3">01OC08-020</text><text class="t" y="20"><tspan x="5.5">Muebles de</tspan><tspan x="5.5" dy="9.3">madera y</tspan><tspan x="5.5" dy="9.3">acrílicos</tspan></text></g>
<g id="n-01IH15-010" transform="translate(6.5,1380)"><use href="#b"/><text class="i" x="29" y="8.3">01IH15-010</text><text class="t" y="20"><tspan x="5.5">Tubería y</tspan><tspan x="5.5" dy="9.3">Conducciones</tspan><tspan x="5.5" dy="9.3">PVC PB</tspan></text></g>
<g id="n-01OC04-130" transform="translate(221,1380)"><use href="#b"/><text class="i" x="29" y="8.3">01OC04-130</text><text class="t" y="20"><tspan x="5.5">Registros de</tspan><tspan x="5.5" dy="9.3">instalaciones</tspan></text></g>
<g id="n-01E40-040" transform="translate(435.5,1380)"><use href="#b"/><text class="i" x="29" y="8.3">01E40-040</text><text class="t" y="20"><tspan x="5.5">Tableros de</tspan><tspan x="5.5" dy="9.3">control PB</tspan></text></g>
<g id="n-01SO24-020" transform="translate(1293.5,1380)"><use href="#b"/><text class="i" x="29" y="8.3">01SO24-020</text><text class="t" y="20"><tspan x="5.5">Sonido</tspan><tspan x="5.5" dy="9.3">Accesorios en</tspan><tspan x="5.5" dy="9.3">PB</tspan></text></g>
<g id="n-01IH14-010" transform="translate(6.5,1433.6)"><use href="#b"/><text class="i" x="29" y="8.3">01IH14-010</text><text class="t" y="20"><tspan x="5.5">Tubería y</tspan><tspan x="5.5" dy="9.3">conducciones de</tspan><tspan x="5.5" dy="9.3">Fo.Fo. PB</tspan></text></g>
<g id="n-01SO32-30" transform="translate(1293.5,1433.6)"><use href="#b"/><text class="i" x="29" y="8.3">01SO32-30</text><text class="t" y="20"><tspan x="5.5">Sonido Equipos</tspan></text></g>
<g id="n-01TE32-030" transform="translate(6.5,1487.2)"><use href="#b"/><text class="i" x="29" y="8.3">01TE32-030</text><text class="t" y="20"><tspan x="5.5">Tel. Instalación</tspan><tspan x="5.5" dy="9.3">eléctrica en PB</tspan></text></g>
<g id="n-01TE32-010" transform="translate(1293.5,1487.2)"><use href="#b"/><text class="i" x="29" y="8.3">01TE32-010</text><text class="t" y="20"><tspan x="5.5">Tel. Accesorios</tspan><tspan x="5.5" dy="9.3">en PB</tspan></text></g>
<g id="n-01OC05-020" transform="translate(721.5,1540.8)"><use href="#b"/><text class="i" x="29" y="8.3">01OC05-020</text><text class="t" y="20"><tspan x="5.5">Falso Plafón</tspan></text></g>
<g id="n-01E40-050" transform="translate(936,1540.8)"><use href="#b"/><text class="i" x="29" y="8.3">01E40-050</text><text class="t" y="20"><tspan x="5.5">Luminarias PB</tspan></text></g>
<g id="n-01TE32-020" transform="translate(1293.5,1540.8)"><use href="#b"/><text class="i" x="29" y="8.3">01TE32-020</text><text class="t" y="20"><tspan x="5.5">Tel. Equipos en</tspan><tspan x="5.5" dy="9.3">PB</tspan></text></g>
<g id="n-01OC05-090" transform="translate(1293.5,1594.4)"><use href="#b"/><text class="i" x="29" y="8.3">01OC05-090</text><text class="t" y="20"><tspan x="5.5">Cortinas de tela</tspan></text></g>
<g id="n-01OC05-080" transform="translate(721.5,1648)"><use href="#b"/><text class="i" x="29" y="8.3">01OC05-080</text><text class="t" y="20"><tspan x="5.5">Pintura</tspan></text></g>
<g id="n-01AA30-020" transform="translate(936,1648)"><use href="#b"/><text class="i" x="29" y="8.3">01AA30-020</text><text class="t" y="20"><tspan x="5.5">AA Difusores en</tspan><tspan x="5.5" dy="9.3">PB</tspan></text></g>
<g id="n-01E40-030" transform="translate(1293.5,1648)"><use href="#b"/><text class="i" x="29" y="8.3">01E40-030</text><text class="t" y="20"><tspan x="5.5">Accesorios</tspan><tspan x="5.5" dy="9.3">eléctricos PB</tspan></text></g>
<g id="n-01OC09-010" transform="translate(1079,1701.6)"><use href="#b"/><text class="i" x="29" y="8.3">01OC09-010</text><text class="t" y="20"><tspan x="5.5">Puerta de</tspan><tspan x="5.5" dy="9.3">madera PB</tspan></text></g>
<g id="n-01OC05-100" transform="translate(1293.5,1701.6)"><use href="#b"/><text class="i" x="29" y="8.3">01OC05-100</text><text class="t" y="20"><tspan x="5.5">Directorio y</tspan><tspan x="5.5" dy="9.3">Señalamientos</tspan></text></g>
<g id="n-01AA30-010" transform="translate(1293.5,1755.2)"><use href="#b"/><text class="i" x="29" y="8.3">01AA30-010</text><text class="t" y="20"><tspan x="5.5">AA Accesorios</tspan><tspan x="5.5" dy="9.3">en PB</tspan></text></g>
<g id="n-01OC05-040" transform="translate(936,1808.8)"><use href="#b"/><text class="i" x="29" y="8.3">01OC05-040</text><text class="t" y="20"><tspan x="5.5">Texturizado de</tspan><tspan x="5.5" dy="9.3">muros con</tspan><tspan x="5.5" dy="9.3">aplanado de</tspan></text></g>
<g id="n-01E45-010" transform="translate(1293.5,1808.8)"><use href="#b"/><text class="i" x="29" y="8.3">01E45-010</text><text class="t" y="20"><tspan x="5.5">Accesorios</tspan><tspan x="5.5" dy="9.3">eléctricos PB</tspan><tspan x="5.5" dy="9.3">Tensión</tspan></text></g>
<g id="n-01OC05-110" transform="translate(1079,1862.4)"><use href="#b"/><text class="i" x="29" y="8.3">01OC05-110</text><text class="t" y="20"><tspan x="5.5">cubierta para</tspan><tspan x="5.5" dy="9.3">lavabo</tspan></text></g>
<g id="n-01IH16-010" transform="translate(1222,1862.4)"><use href="#b"/><text class="i" x="29" y="8.3">01IH16-010</text><text class="t" y="20"><tspan x="5.5">Muebles de</tspan><tspan x="5.5" dy="9.3">Baño y</tspan><tspan x="5.5" dy="9.3">accesorios PB</tspan></text></g>
<g id="n-01OC05-060" transform="translate(1293.5,1862.4)"><use href="#b"/><text class="i" x="29" y="8.3">01OC05-060</text><text class="t" y="20"><tspan x="5.5">Accesorios de</tspan><tspan x="5.5" dy="9.3">baños</tspan></text></g>
</svg>
